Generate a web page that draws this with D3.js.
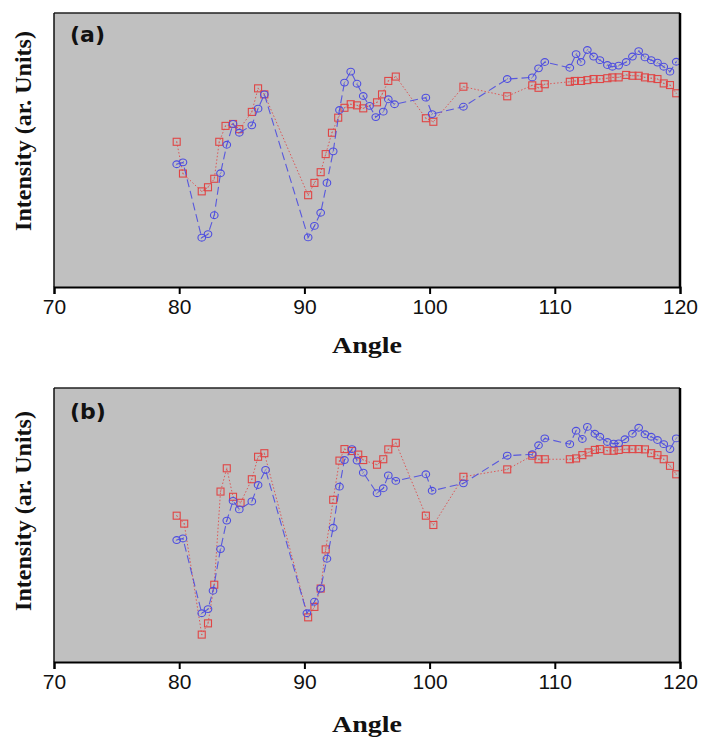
<!DOCTYPE html>
<html><head><meta charset="utf-8">
<script src="https://cdnjs.cloudflare.com/ajax/libs/d3/7.8.5/d3.min.js"></script>
<style>body{margin:0;background:#fff}svg{display:block}</style>
</head><body>
<script>
// ---------- data ----------
const xTicks = [70, 80, 90, 100, 110, 120];
const panelLabels = ["(a)", "(b)"];
const xLabel = "Angle";
const yLabel = "Intensity (ar. Units)";

const angleA_blue = [79.8,80.3,81.8,82.3,82.8,83.3,83.8,84.3,84.8,85.8,86.3,86.8,90.3,90.8,91.3,91.8,92.3,92.8,93.2,93.7,94.2,94.7,95.2,95.7,96.3,96.7,97.2,99.7,100.2,102.7,106.2,108.2,108.7,109.2,111.2,111.7,112.1,112.6,113.1,113.6,114.2,114.6,115.1,115.7,116.2,116.7,117.2,117.7,118.2,118.7,119.2,119.7];
const valueA_blue = [44.8,45.5,18.0,19.3,26.2,41.5,51.9,59.5,56.3,59.0,65.1,70.3,18.1,22.3,27.1,38.0,49.5,64.6,74.6,78.6,74.2,69.7,66.1,62.0,64.0,68.5,66.7,69.1,63.1,65.8,75.9,76.5,79.8,82.1,80.0,85.0,82.1,86.5,84.1,82.8,81.0,80.4,80.8,82.1,84.1,86.1,83.8,82.8,81.9,80.4,78.6,82.2];

const angleA_red = [79.8,80.3,81.8,82.3,82.8,83.2,83.7,84.3,84.8,85.8,86.3,86.8,90.3,90.8,91.3,91.7,92.2,92.7,93.2,93.7,94.2,94.7,95.8,96.2,96.7,97.3,99.7,100.3,102.7,106.2,108.2,108.7,109.2,111.2,111.6,112.1,112.6,113.1,113.6,114.2,114.6,115.1,115.7,116.2,116.7,117.2,117.7,118.2,118.7,119.2,119.7];
const valueA_red = [53.0,41.4,34.9,36.4,39.5,53.0,58.8,59.5,57.6,63.9,72.5,70.3,33.5,38.0,41.9,48.5,56.3,61.8,65.4,66.7,66.3,65.2,67.4,70.3,75.2,76.8,61.6,60.3,73.1,69.6,73.6,72.7,74.0,74.9,75.2,75.2,75.5,75.9,75.9,76.2,76.5,76.5,77.4,77.1,77.1,76.5,76.2,75.9,74.3,73.7,70.7];

const angleB_blue = [79.8,80.3,81.8,82.3,82.7,83.3,83.8,84.3,84.8,85.8,86.3,86.9,90.2,90.8,91.3,91.8,92.3,92.8,93.2,93.8,94.2,94.7,95.8,96.3,96.7,97.3,99.7,100.2,102.7,106.2,108.2,108.7,109.2,111.2,111.7,112.2,112.6,113.2,113.6,114.2,114.7,115.1,115.6,116.2,116.7,117.2,117.7,118.2,118.7,119.2,119.7];
const valueB_blue = [44.5,45.1,17.8,19.3,26.0,41.2,51.6,58.8,55.7,58.6,64.6,70.1,17.8,22.0,26.8,37.7,49.0,64.0,73.7,77.7,73.5,69.1,61.6,63.4,68.1,66.1,68.5,62.5,65.2,75.3,75.8,79.1,81.6,79.5,84.4,81.4,85.8,83.3,82.2,80.3,79.7,79.8,81.3,83.3,85.5,83.1,82.2,81.0,79.5,77.7,81.6];

const angleB_red = [79.8,80.4,81.8,82.3,82.8,83.3,83.8,84.3,84.9,85.8,86.3,86.8,90.3,90.8,91.3,91.7,92.3,92.8,93.2,93.8,94.3,94.7,95.8,96.3,96.7,97.3,99.7,100.3,102.7,106.2,108.2,108.7,109.2,111.2,111.7,112.2,112.7,113.2,113.6,114.2,114.7,115.1,115.7,116.2,116.7,117.2,117.7,118.2,118.7,119.2,119.7];
const valueB_red = [53.4,50.5,10.0,14.1,28.2,62.2,70.7,60.3,58.1,66.7,74.9,76.2,16.3,20.1,26.8,41.1,59.2,73.5,77.7,77.0,75.7,73.7,72.0,74.0,77.6,80.0,53.4,50.0,67.6,70.3,75.3,74.0,74.0,74.0,74.3,75.5,76.5,77.4,77.7,77.1,77.1,77.4,77.7,77.7,77.7,77.6,76.2,75.5,74.0,71.6,68.5];

// ---------- drawing ----------
const W = 702, H = 737;
const svg = d3.select("body").append("svg").attr("width", W).attr("height", H);
svg.append("rect").attr("width", W).attr("height", H).attr("fill", "#fff");

const x = d3.scaleLinear().domain([70, 120]).range([54, 680]);
const BLUE = "#4d4de0", RED = "#e04545";

const panels = [
  {top: 13, bottom: 287, label: panelLabels[0], labelY: 42, yLabelY: 131, xLabelY: 353,
   blue: angleA_blue.map((a, i) => [a, valueA_blue[i]]),
   red: angleA_red.map((a, i) => [a, valueA_red[i]])},
  {top: 388, bottom: 662, label: panelLabels[1], labelY: 419, yLabelY: 511, xLabelY: 732,
   blue: angleB_blue.map((a, i) => [a, valueB_blue[i]]),
   red: angleB_red.map((a, i) => [a, valueB_red[i]])}
];

panels.forEach(p => {
  const y = d3.scaleLinear().domain([0, 100]).range([p.bottom, p.top]);
  const g = svg.append("g");
  g.append("rect").attr("x", x(70)).attr("y", p.top)
    .attr("width", x(120) - x(70)).attr("height", p.bottom - p.top)
    .attr("fill", "#c0c0c0");

  const line = d3.line().x(d => x(d[0])).y(d => y(d[1]));

  g.append("path").datum(p.red).attr("d", line).attr("fill", "none")
    .attr("stroke", RED).attr("stroke-width", 1).attr("stroke-dasharray", "1.5,2").attr("opacity", 0.85);
  const rs = g.selectAll(".rs").data(p.red).enter().append("g")
    .attr("transform", d => `translate(${x(d[0])},${y(d[1])})`);
  rs.append("rect").attr("x", -3.5).attr("y", -3.5).attr("width", 7).attr("height", 7)
    .attr("fill", "none").attr("stroke", RED).attr("stroke-width", 1.1);
  rs.append("rect").attr("x", -0.6).attr("y", -0.6).attr("width", 1.2).attr("height", 1.2)
    .attr("fill", RED).attr("opacity", 0.6);

  g.append("path").datum(p.blue).attr("d", line).attr("fill", "none")
    .attr("stroke", BLUE).attr("stroke-width", 1.1).attr("stroke-dasharray", "8,4").attr("opacity", 0.9);
  const bc = g.selectAll(".bc").data(p.blue).enter().append("g")
    .attr("transform", d => `translate(${x(d[0])},${y(d[1])})`);
  bc.append("ellipse").attr("rx", 3.8).attr("ry", 3.4)
    .attr("fill", "none").attr("stroke", BLUE).attr("stroke-width", 1.1);
  bc.append("line").attr("x1", -0.8).attr("y1", 1.2).attr("x2", 0.8).attr("y2", -1.2)
    .attr("stroke", BLUE).attr("stroke-width", 0.8).attr("opacity", 0.7);

  g.append("line").attr("x1", x(70)).attr("x2", x(120)).attr("y1", p.top).attr("y2", p.top)
    .attr("stroke", "#222").attr("stroke-width", 1.5);
  g.append("line").attr("x1", x(120)).attr("x2", x(120)).attr("y1", p.top).attr("y2", p.bottom)
    .attr("stroke", "#000").attr("stroke-width", 2.5);
  g.append("line").attr("x1", x(70)).attr("x2", x(70)).attr("y1", p.top).attr("y2", p.bottom)
    .attr("stroke", "#111").attr("stroke-width", 1.5);

  const ax = g.append("g").attr("transform", `translate(0,${p.bottom})`)
    .call(d3.axisBottom(x).tickValues(xTicks).tickSize(7).tickPadding(5).tickFormat(d3.format("d")));
  ax.select(".domain").attr("stroke", "#000").attr("stroke-width", 2);
  ax.selectAll(".tick line").attr("stroke", "#000").attr("stroke-width", 2);
  ax.selectAll(".tick text").attr("font-family", "Liberation Sans, Arial, sans-serif")
    .attr("font-size", 21).attr("fill", "#111");

  g.append("text").attr("x", 70).attr("y", p.labelY).text(p.label)
    .attr("font-family", "DejaVu Sans, Verdana, sans-serif").attr("font-weight", "bold")
    .attr("font-size", 22).attr("fill", "#111");

  g.append("text").attr("x", x(95)).attr("y", p.xLabelY).attr("text-anchor", "middle")
    .attr("font-family", "Liberation Serif, Times New Roman, serif").attr("font-weight", "bold")
    .attr("font-size", 23).attr("textLength", 70).attr("lengthAdjust", "spacingAndGlyphs")
    .attr("fill", "#111").text(xLabel);
  g.append("text").attr("transform", `translate(31,${p.yLabelY}) rotate(-90)`)
    .attr("text-anchor", "middle")
    .attr("font-family", "Liberation Serif, Times New Roman, serif").attr("font-weight", "bold")
    .attr("font-size", 24).attr("fill", "#111").text(yLabel);
});
</script>
</body></html>
